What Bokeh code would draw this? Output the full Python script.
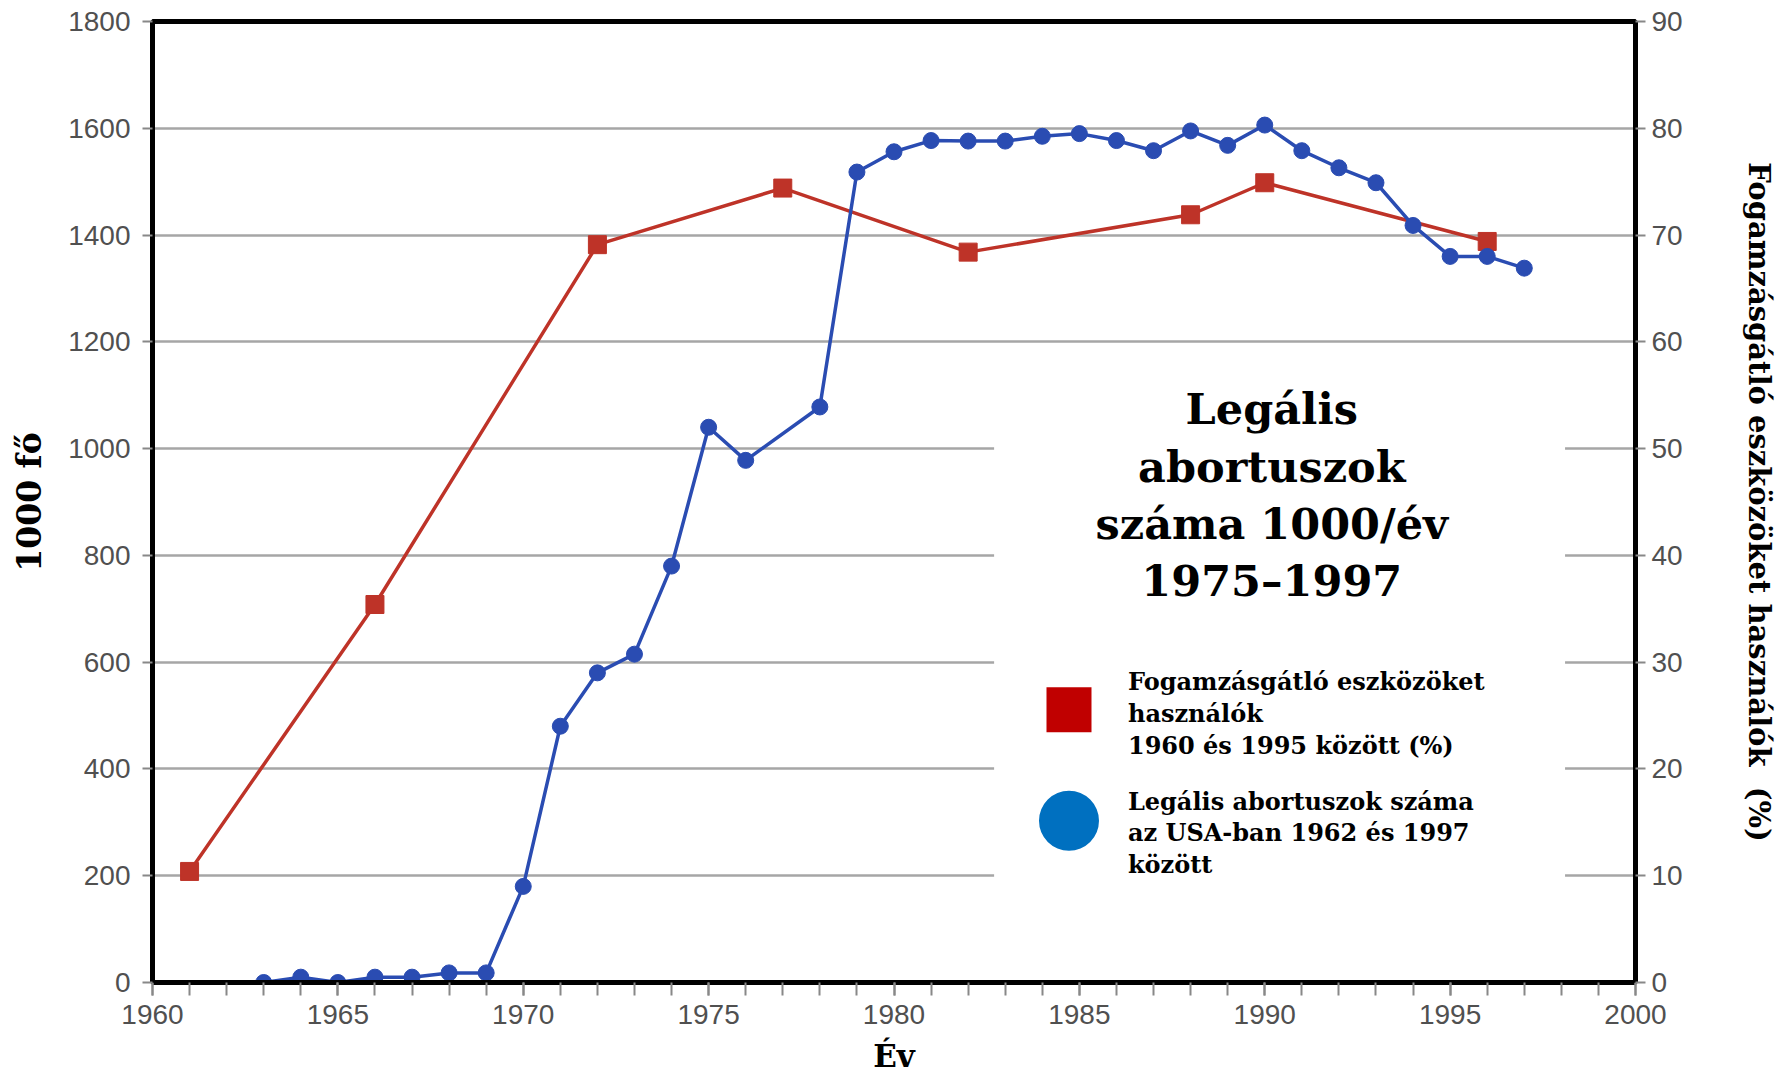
from bokeh.plotting import figure
from bokeh.models import Range1d, LinearAxis, Label, BoxAnnotation, SingleIntervalTicker
from bokeh.embed import file_html
from bokeh.resources import INLINE

# ---------------- data ----------------
abortion_years = [1963, 1964, 1965, 1966, 1967, 1968, 1969, 1970, 1971, 1972, 1973, 1974,
                  1975, 1976, 1978, 1979, 1980, 1981, 1982, 1983, 1984, 1985, 1986, 1987,
                  1988, 1989, 1990, 1991, 1992, 1993, 1994, 1995, 1996, 1997]
abortions = [0, 10, 0, 10, 10, 18, 18, 180, 480, 580, 615, 780,
             1040, 978, 1078, 1518, 1556, 1577, 1576, 1576, 1585, 1590, 1577, 1558,
             1595, 1568, 1606, 1558, 1526, 1498, 1418, 1360, 1360, 1338]

contra_years = [1961, 1966, 1972, 1977, 1982, 1988, 1990, 1996]
contra_pct = [10.4, 35.4, 69.1, 74.4, 68.4, 71.9, 74.9, 69.4]

title_lines = ["Legális", "abortuszok", "száma 1000/év", "1975\u20131997"]
legend_red_lines = ["Fogamzásgátló eszközöket", "használók", "1960 és 1995 között (%)"]
legend_blue_lines = ["Legális abortuszok száma", "az USA-ban 1962 és 1997", "között"]

x_label = "Év"
y_label = "1000 fő"
y2_label = "Fogamzásgátló eszközöket használók\u00a0\u00a0(%)"

# ---------------- style ----------------
BLUE = "#2A4CB2"
RED = "#BE3328"
LEG_RED = "#C00000"
LEG_BLUE = "#0070C0"
SERIF = "DejaVu Serif"
SANS = "Liberation Sans"
TICK_COLOR = "#505050"

p = figure(width=1778, height=1078, output_backend="svg", toolbar_location=None,
           x_range=Range1d(1960, 2000), y_range=Range1d(0, 1800),
           min_border_left=152, min_border_right=142, min_border_top=21, min_border_bottom=96,
           background_fill_color="white", border_fill_color="white")

p.extra_y_ranges = {"pct": Range1d(0, 90)}
right_axis = LinearAxis(y_range_name="pct", ticker=SingleIntervalTicker(interval=10, num_minor_ticks=0))
p.add_layout(right_axis, "right")

p.xaxis.ticker = SingleIntervalTicker(interval=5, num_minor_ticks=5)
p.yaxis[0].ticker = SingleIntervalTicker(interval=200, num_minor_ticks=0)

for ax in [p.xaxis[0], p.yaxis[0], right_axis]:
    ax.major_label_text_font = SANS
    ax.major_label_text_font_size = "28px"
    ax.major_label_text_color = TICK_COLOR
    ax.major_tick_line_color = "#888888"
    ax.major_tick_line_width = 2
    ax.minor_tick_line_color = "#888888"
    ax.minor_tick_line_width = 2
    ax.major_tick_in = 0
    ax.minor_tick_in = 0
    ax.axis_line_color = "black"
    ax.axis_line_width = 5
    ax.axis_label_text_font = SERIF
    ax.axis_label_text_font_style = "bold"
    ax.axis_label_text_color = "black"

p.xaxis.major_tick_out = 13
p.xaxis.minor_tick_out = 13
p.xaxis.major_label_standoff = 9
p.xaxis.axis_label = x_label
p.xaxis.axis_label_standoff = 11
p.xaxis.axis_label_text_font_size = "31px"

p.yaxis[0].major_tick_out = 10
p.yaxis[0].minor_tick_out = 0
p.yaxis[0].major_label_standoff = 12
p.yaxis[0].axis_label_standoff = 16
p.yaxis[0].axis_label = y_label
p.yaxis[0].axis_label_text_font_size = "33px"

right_axis.major_tick_out = 10
right_axis.minor_tick_out = 0
right_axis.major_label_standoff = 6
right_axis.axis_label_standoff = 56
right_axis.axis_label = y2_label
right_axis.axis_label_text_font_size = "29px"

p.xgrid.visible = False
p.ygrid.grid_line_color = "#a6a6a6"
p.ygrid.grid_line_width = 2.5
p.ygrid.ticker = p.yaxis[0].ticker

p.outline_line_color = "black"
p.outline_line_width = 5
p.outline_line_alpha = 1

# ---------------- series ----------------
p.line(contra_years, contra_pct, y_range_name="pct", line_color=RED, line_width=3.5)
p.scatter(contra_years, contra_pct, y_range_name="pct", marker="square", size=18,
          fill_color=RED, line_color=RED)

p.line(abortion_years, abortions, line_color=BLUE, line_width=3.5)
p.scatter(abortion_years, abortions, marker="circle", size=16, fill_color=BLUE, line_color=BLUE)

# ---------------- legend panel ----------------
box = BoxAnnotation(left=1982.7, right=1998.1, bottom=60, top=1150,
                    fill_color="white", fill_alpha=1.0, line_color=None)
p.add_layout(box)

title_x = 1990.19
title_ys = [1074, 965, 859, 752]
for t, yy in zip(title_lines, title_ys):
    p.add_layout(Label(x=title_x, y=yy, text=t, text_align="center",
                       text_baseline="alphabetic", text_font=SERIF, text_font_style="bold",
                       text_font_size="43px", text_color="black", level="overlay"))

swatch_x = 1984.72
text_x = 1986.31
p.scatter([swatch_x], [511], marker="square", size=45, fill_color=LEG_RED, line_color=None,
          level="overlay")
p.scatter([swatch_x], [303], marker="circle", size=60, fill_color=LEG_BLUE, line_color=None,
          level="overlay")

for lines, ys in [(legend_red_lines, [563, 504, 444]), (legend_blue_lines, [339, 281, 221])]:
    for t, yy in zip(lines, ys):
        p.add_layout(Label(x=text_x, y=yy, text=t, text_align="left",
                           text_baseline="alphabetic", text_font=SERIF, text_font_style="bold",
                           text_font_size="24px", text_color="black", level="overlay"))

open("out.html", "w").write(file_html(p, INLINE))
